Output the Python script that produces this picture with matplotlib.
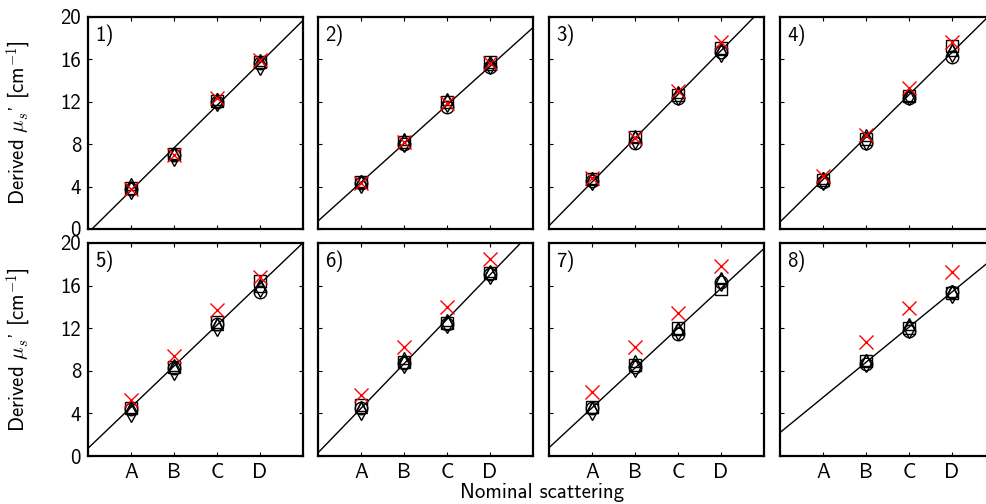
import numpy as np
import matplotlib
matplotlib.use("Agg")
import matplotlib.pyplot as plt

plt.rcParams['font.family'] = ['cmss10', 'DejaVu Sans']
plt.rcParams['mathtext.fontset'] = 'cm'
plt.rcParams['axes.unicode_minus'] = False

categories = ["A", "B", "C", "D"]
panel_labels = ["1)", "2)", "3)", "4)", "5)", "6)", "7)", "8)"]
yticks = [0, 4, 8, 12, 16, 20]

# reference line per panel: slope, intercept
line_slope = [4.01, 3.65, 4.13, 4.0, 3.86, 4.18, 3.74, 3.3]
line_intercept = [-0.37, 0.75, 0.3, 0.66, 0.72, 0.3, 0.78, 2.2]

nan = np.nan
circle_vals = [
    [3.8, 7.0, 12.0, 15.7],
    [4.3, 8.0, 11.5, 15.3],
    [4.5, 8.1, 12.4, 16.7],
    [4.4, 8.1, 12.4, 16.2],
    [4.4, 8.3, 12.4, 15.4],
    [4.5, 8.7, 12.4, 17.1],
    [4.5, 8.4, 11.5, 16.3],
    [nan, 8.6, 11.7, 15.4],
]
square_vals = [
    [3.9, 7.1, 12.1, 15.8],
    [4.4, 8.2, 12.0, 15.8],
    [4.7, 8.7, 12.6, 17.1],
    [4.6, 8.5, 12.5, 17.3],
    [4.5, 8.4, 12.6, 16.4],
    [4.8, 8.8, 12.5, 17.2],
    [4.6, 8.5, 12.0, 15.7],
    [nan, 8.9, 12.0, 15.3],
]
diamond_vals = [
    [3.7, 6.8, 12.0, 15.4],
    [4.2, 8.1, 11.9, 15.5],
    [4.5, 8.4, 12.5, 16.6],
    [4.5, 8.3, 12.5, 16.6],
    [4.0, 8.0, 12.1, 15.8],
    [4.2, 8.6, 12.4, 17.0],
    [4.2, 8.3, 11.7, 16.3],
    [nan, 8.7, 11.9, 15.2],
]
triangle_vals = [
    [4.2, 7.2, 12.3, 15.9],
    [4.5, 8.5, 12.3, 15.6],
    [4.8, 8.8, 12.9, 17.0],
    [4.8, 8.9, 12.6, 16.9],
    [4.6, 8.5, 12.4, 16.0],
    [4.6, 9.2, 12.8, 17.4],
    [4.6, 8.9, 11.9, 16.7],
    [nan, 9.0, 12.4, 15.5],
]
cross_vals = [
    [3.8, 7.0, 12.4, 15.9],
    [4.3, 8.2, 11.9, 15.7],
    [4.8, 8.6, 13.0, 17.6],
    [5.0, 8.9, 13.3, 17.6],
    [5.3, 9.4, 13.7, 16.8],
    [5.7, 10.2, 14.0, 18.5],
    [6.0, 10.2, 13.4, 17.8],
    [nan, 10.7, 13.9, 17.3],
]

W, H = 987, 504
fig = plt.figure(figsize=(W / 100, H / 100), dpi=100)

col_left = [88, 318, 549, 780]
ax_w = 215
row_top = [17, 243]
row_bot = [229, 456]

fs = 15
xpos = np.arange(1, len(categories) + 1)
xline = np.array([0.0, 5.0])

for i in range(8):
    r, c = divmod(i, 4)
    l = col_left[c]
    t, b = row_top[r], row_bot[r]
    ax = fig.add_axes([l / W, 1 - b / H, ax_w / W, (b - t) / H])
    ax.plot(xline, line_slope[i] * xline + line_intercept[i], color='black', lw=1.0, zorder=1)
    mk = dict(ls='none', mfc='none', mec='black', mew=1.0, zorder=3)
    ax.plot(xpos, circle_vals[i], marker='o', ms=9, **mk)
    ax.plot(xpos, square_vals[i], marker='s', ms=8, **mk)
    ax.plot(xpos, diamond_vals[i], marker='d', ms=9, **mk)
    ax.plot(xpos, triangle_vals[i], marker='^', ms=9, **mk)
    ax.plot(xpos, cross_vals[i], marker='x', ms=10, ls='none', color='red', mew=1.0, zorder=4)
    ax.set_xlim(0, 5)
    ax.set_ylim(0, 20)
    ax.set_xticks(xpos)
    ax.set_yticks(yticks)
    ax.tick_params(direction='in', top=True, right=True, length=3, width=0.8,
                   labelsize=fs, pad=5)
    if r == 1:
        ax.set_xticklabels(categories)
    else:
        ax.set_xticklabels([])
    if c == 0:
        ax.set_yticklabels([str(v) for v in yticks])
        ax.set_ylabel(r"Derived $\mu_s$' [cm$^{-1}$]", fontsize=fs)
        ax.yaxis.set_label_coords(-0.255, 0.5)
    else:
        ax.set_yticklabels([])
    for s in ax.spines.values():
        s.set_linewidth(1.6)
    ax.text(0.035, 0.965, panel_labels[i], transform=ax.transAxes, ha='left', va='top', fontsize=fs)

fig.text(542 / W, 1 - 493 / H, "Nominal scattering", ha='center', va='center', fontsize=fs)

fig.savefig("out.png", dpi=100)
